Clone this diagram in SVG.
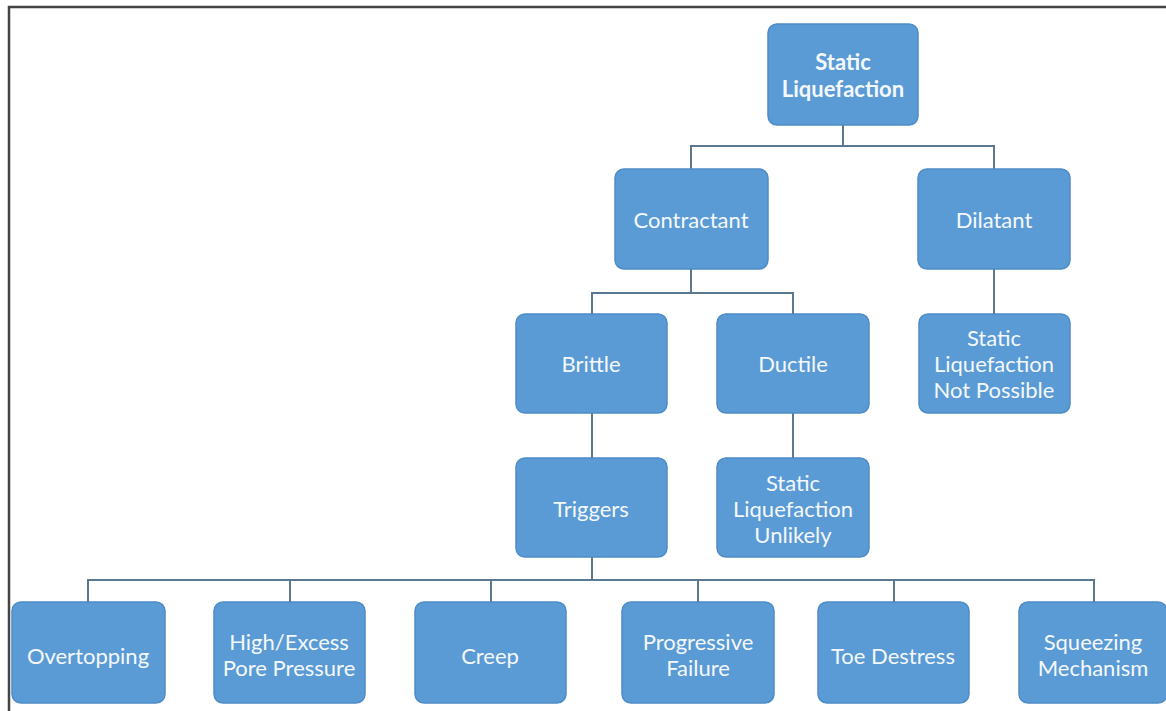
<svg xmlns="http://www.w3.org/2000/svg" width="1166" height="711" viewBox="0 0 1166 711">
<style>
.box{fill:#5b9bd5;stroke:#4f8cc6;stroke-width:1.5}
.t{fill:#f4f8fc;font-family:Lato,"Liberation Sans",sans-serif;font-size:22px;text-anchor:middle;dominant-baseline:central}
.b{font-weight:bold}
.c{fill:none;stroke:#5a7890;stroke-width:2}
</style>
<rect width="1166" height="711" fill="#ffffff"/>
<path d="M9,711 V7 H1166" fill="none" stroke="#444" stroke-width="2.5"/>
<g id="connectors">
<path class="c" d="M843,125 V146 M691,169 V146 H994 V169"/>
<path class="c" d="M691,269 V293 M592,314 V293 H793 V314"/>
<path class="c" d="M994,269 V314"/>
<path class="c" d="M592,413 V458"/>
<path class="c" d="M793,413 V458"/>
<path class="c" d="M592,557 V580 M88,602 V580 H1094 V602 M290,580 V602 M491,580 V602 M698,580 V602 M894,580 V602"/>
</g>
<g id="root"><rect class="box" x="768" y="24" width="150" height="101" rx="9"/><text class="t b" x="843" y="61">Static</text><text class="t b" x="843" y="88">Liquefaction</text></g>
<g id="contractant"><rect class="box" x="615" y="169" width="153" height="100" rx="9"/><text class="t" x="691" y="219">Contractant</text></g>
<g id="dilatant"><rect class="box" x="918" y="169" width="152" height="100" rx="9"/><text class="t" x="994" y="219">Dilatant</text></g>
<g id="brittle"><rect class="box" x="516" y="314" width="151" height="99" rx="9"/><text class="t" x="591" y="363">Brittle</text></g>
<g id="ductile"><rect class="box" x="717" y="314" width="152" height="99" rx="9"/><text class="t" x="793" y="363">Ductile</text></g>
<g id="not-possible"><rect class="box" x="919" y="314" width="151" height="99" rx="9"/><text class="t" x="994" y="337">Static</text><text class="t" x="994" y="363">Liquefaction</text><text class="t" x="994" y="389">Not Possible</text></g>
<g id="triggers"><rect class="box" x="516" y="458" width="151" height="99" rx="9"/><text class="t" x="591" y="508">Triggers</text></g>
<g id="unlikely"><rect class="box" x="717" y="458" width="152" height="99" rx="9"/><text class="t" x="793" y="482">Static</text><text class="t" x="793" y="508">Liquefaction</text><text class="t" x="793" y="534">Unlikely</text></g>
<g id="overtopping"><rect class="box" x="12" y="602" width="153" height="101" rx="9"/><text class="t" x="88" y="655">Overtopping</text></g>
<g id="pore-pressure"><rect class="box" x="214" y="602" width="151" height="101" rx="9"/><text class="t" x="289" y="641">High/Excess</text><text class="t" x="289" y="667">Pore Pressure</text></g>
<g id="creep"><rect class="box" x="415" y="602" width="151" height="101" rx="9"/><text class="t" x="490" y="655">Creep</text></g>
<g id="progressive-failure"><rect class="box" x="622" y="602" width="152" height="101" rx="9"/><text class="t" x="698" y="641">Progressive</text><text class="t" x="698" y="667">Failure</text></g>
<g id="toe-destress"><rect class="box" x="818" y="602" width="151" height="101" rx="9"/><text class="t" x="893" y="655">Toe Destress</text></g>
<g id="squeezing"><rect class="box" x="1019" y="602" width="148" height="101" rx="9"/><text class="t" x="1093" y="641">Squeezing</text><text class="t" x="1093" y="667">Mechanism</text></g>
</svg>
